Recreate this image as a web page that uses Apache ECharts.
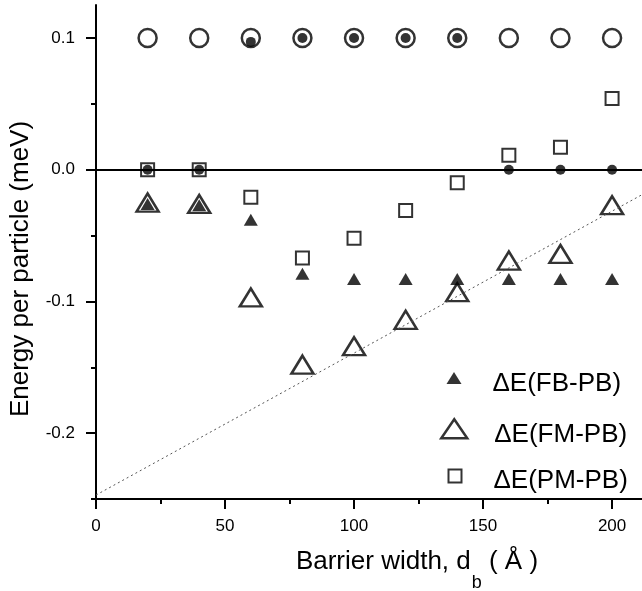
<!DOCTYPE html>
<html>
<head>
<meta charset="utf-8">
<script src="https://cdn.jsdelivr.net/npm/echarts@6.0.0/dist/echarts.min.js"></script>
<style>
html, body { margin: 0; padding: 0; background: #fff; }
#chart { width: 642px; height: 591px; }
</style>
</head>
<body>
<div id="chart"></div>
<script>
// barrier widths (Å)
const widths = [20, 40, 60, 80, 100, 120, 140, 160, 180, 200];
// reference levels (open circles / filled dots)
const openCircle = [0.1, 0.1, 0.1, 0.1, 0.1, 0.1, 0.1, 0.1, 0.1, 0.1];
const filledDot = [0, 0, 0.097, 0.1, 0.1, 0.1, 0.1, 0, 0, 0];
// energy differences (meV)
const dE_FB = [-0.026, -0.027, -0.038, -0.079, -0.083, -0.083, -0.083, -0.083, -0.083, -0.083];
const dE_FM = [-0.025, -0.026, -0.097, -0.148, -0.134, -0.114, -0.093, -0.069, -0.064, -0.027];
const dE_PM = [0, 0, -0.021, -0.067, -0.052, -0.031, -0.010, 0.011, 0.017, 0.054];
// dotted guide line
const fitX = [0, 211.6];
const fitY = [-0.247, -0.019];
// ticks
const xMajor = [0, 50, 100, 150, 200];
const xMinor = [25, 75, 125, 175];
const yMajor = [-0.2, -0.1, 0, 0.1];
const yMinor = [-0.25, -0.15, -0.05, 0.05];

function pairs(xs, ys) {
    return xs.map(function (x, i) { return [x, ys[i]]; });
}

// legend entry text, pushed down/right a bit from its marker
function legendText(padTop, padLeft) {
    return {
        fontSize: 26, color: black,
        rich: { t: { fontSize: 26, padding: [padTop, 0, 0, padLeft] } }
    };
}

const myChart = echarts.init(document.getElementById('chart'));
const black = '#000';
const option = {
    animation: false,
    textStyle: { fontFamily: 'Liberation Sans, Arial, sans-serif', color: black },
    grid: { left: 96, right: 0, top: 5, bottom: 92, outerBoundsMode: 'none', containLabel: false },
    xAxis: [
        {
            type: 'value', min: 0, max: 211.6, position: 'bottom',
            axisLine: { onZero: false, lineStyle: { color: black, width: 2 } },
            axisTick: { customValues: xMajor, length: 10, lineStyle: { color: black, width: 2 } },
            axisLabel: { customValues: xMajor, fontSize: 17, color: black, margin: 19 },
            splitLine: { show: false },
            name: '{a|Barrier width, d}{s|b}{a| ( Å )}',
            nameLocation: 'middle',
            nameGap: 50,
            nameTextStyle: {
                color: black,
                padding: [0, 0, 0, 96],
                rich: {
                    a: { fontSize: 26, verticalAlign: 'bottom', padding: [0, 0, 17, 0] },
                    s: { fontSize: 18, verticalAlign: 'bottom', padding: [0, 0, 0, 1] }
                }
            }
        },
        {
            type: 'value', min: 0, max: 211.6, position: 'bottom',
            axisLine: { show: false, onZero: false },
            axisTick: { customValues: xMinor, length: 5, lineStyle: { color: black, width: 2 } },
            axisLabel: { show: false },
            splitLine: { show: false }
        }
    ],
    yAxis: [
        {
            type: 'value', min: -0.25, max: 0.125, position: 'left',
            axisLine: { onZero: false, lineStyle: { color: black, width: 2 } },
            axisTick: { customValues: yMajor, length: 10, lineStyle: { color: black, width: 2 } },
            axisLabel: {
                customValues: yMajor, fontSize: 17, color: black, margin: 21,
                formatter: function (v) { return v.toFixed(1); }
            },
            splitLine: { show: false },
            name: 'Energy per particle (meV)',
            nameLocation: 'middle',
            nameGap: 62,
            nameTextStyle: { fontSize: 26, color: black, padding: [0, 34, 0, 0] }
        },
        {
            type: 'value', min: -0.25, max: 0.125, position: 'left',
            axisLine: { show: false, onZero: false },
            axisTick: { customValues: yMinor, length: 5, lineStyle: { color: black, width: 2 } },
            axisLabel: { show: false },
            splitLine: { show: false }
        }
    ],
    legend: [
        {
            data: ['ΔE(FB-PB)'], left: 446.5, top: 371, padding: 0,
            itemWidth: 15, itemHeight: 12, symbolKeepAspect: false, selectedMode: false,
            formatter: '{t|{name}}', textStyle: legendText(12, 26)
        },
        {
            data: ['ΔE(FM-PB)'], left: 440, top: 418, padding: 0,
            itemWidth: 26, itemHeight: 19, symbolKeepAspect: false, selectedMode: false,
            itemStyle: { borderWidth: 2.5 },
            formatter: '{t|{name}}', textStyle: legendText(12, 22)
        },
        {
            data: ['ΔE(PM-PB)'], left: 447.5, top: 468, padding: 0,
            itemWidth: 13, itemHeight: 13, symbolKeepAspect: false, selectedMode: false,
            itemStyle: { borderWidth: 2 },
            formatter: '{t|{name}}', textStyle: legendText(10, 27)
        }
    ],
    series: [
        {
            name: 'guide', type: 'line', data: pairs(fitX, fitY),
            symbol: 'none', silent: true,
            lineStyle: { color: '#555', width: 1, type: [2, 3] },
            markLine: {
                silent: true, symbol: ['none', 'none'],
                label: { show: false },
                lineStyle: { color: black, width: 2, type: 'solid' },
                data: [{ yAxis: 0 }]
            }
        },
        {
            name: 'ΔE(PM-PB)', type: 'scatter', data: pairs(widths, dE_PM),
            symbol: 'rect', symbolSize: 13,
            itemStyle: { color: 'rgba(0,0,0,0)', borderColor: black, borderWidth: 2 }
        },
        {
            name: 'ΔE(FM-PB)', type: 'scatter', data: pairs(widths, dE_FM),
            symbol: 'triangle', symbolSize: [22, 18],
            itemStyle: { color: 'rgba(0,0,0,0)', borderColor: black, borderWidth: 2.5 }
        },
        {
            name: 'ΔE(FB-PB)', type: 'scatter', data: pairs(widths, dE_FB),
            symbol: 'triangle', symbolSize: [14, 12],
            itemStyle: { color: black }
        },
        {
            name: 'open', type: 'scatter', data: pairs(widths, openCircle),
            symbol: 'circle', symbolSize: 18,
            itemStyle: { color: 'rgba(0,0,0,0)', borderColor: black, borderWidth: 2.5 }
        },
        {
            name: 'dot', type: 'scatter', data: pairs(widths, filledDot),
            symbol: 'circle', symbolSize: 10,
            itemStyle: { color: black }
        }
    ]
};
myChart.setOption(option);
</script>
</body>
</html>
